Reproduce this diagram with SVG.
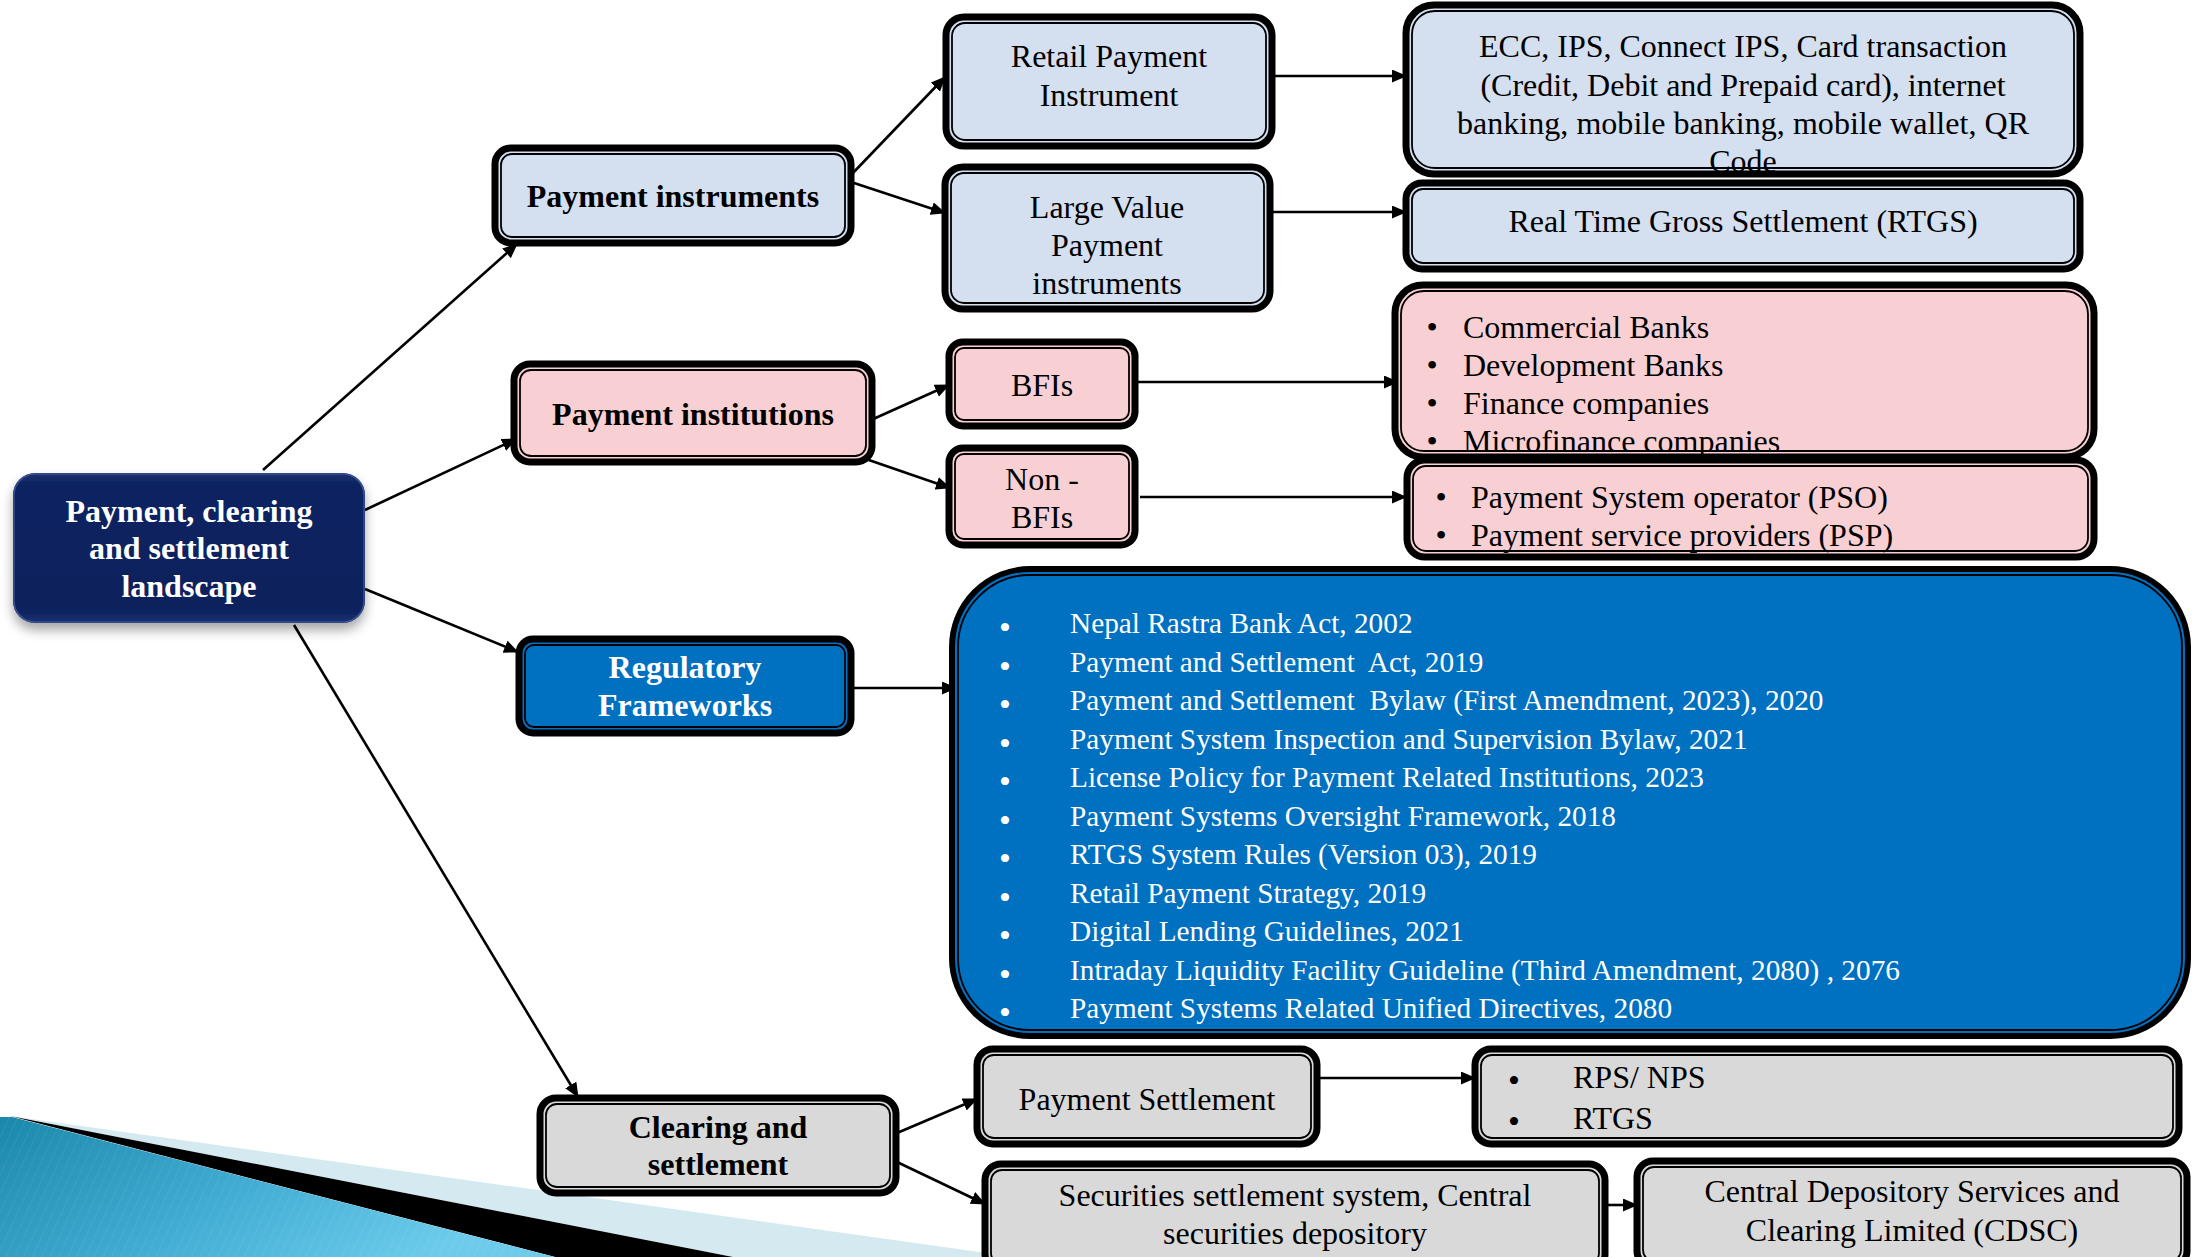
<svg xmlns="http://www.w3.org/2000/svg" width="2192" height="1257" viewBox="0 0 2192 1257">
<defs>
<style>
.t{font-family:'Liberation Serif','Times New Roman',serif;font-size:32px;fill:#000;text-anchor:middle}
.b{font-weight:bold;font-size:32px}
.w{fill:#fff}
.s{text-anchor:start}
.lst{font-size:29.3px;fill:#fff;text-anchor:start}
.blt{text-anchor:middle}
.bb{font-size:34px}
.f{fill:none;stroke:#000;stroke-width:7}
.fi{fill:none;stroke:#000;stroke-width:1.8}
.blue{fill:#d4dff0}
.pink{fill:#f8d0d3}
.gray{fill:#d9d9d9}
.reg{fill:#0070c0}
.c{fill:none;stroke:#000;stroke-width:2.6;marker-end:url(#ah)}
</style>
<marker id="ah" markerUnits="userSpaceOnUse" markerWidth="15" markerHeight="13" refX="14" refY="6.5" orient="auto">
<path d="M0,0 L15,6.5 L0,13 z" fill="#000"/>
</marker>
<linearGradient id="navy" x1="0" y1="0" x2="0" y2="1">
<stop offset="0" stop-color="#1b336f"/>
<stop offset="0.08" stop-color="#0d2461"/>
<stop offset="0.9" stop-color="#0b205c"/>
<stop offset="1" stop-color="#1a3270"/>
</linearGradient>
<linearGradient id="sw" x1="0" y1="0" x2="1" y2="0.4">
<stop offset="0" stop-color="#1a88ab"/>
<stop offset="0.6" stop-color="#46b0d6"/>
<stop offset="1" stop-color="#6ccbea"/>
</linearGradient>
<filter id="sh" x="-10%" y="-10%" width="125%" height="135%">
<feDropShadow dx="0" dy="7" stdDeviation="6" flood-color="#000" flood-opacity="0.35"/>
</filter>
<pattern id="stripes" width="8" height="8" patternUnits="userSpaceOnUse" patternTransform="rotate(25)">
<line x1="0" y1="0" x2="0" y2="8" stroke="#ffffff" stroke-width="1" stroke-opacity="0.12"/>
</pattern>
</defs>
<rect width="2192" height="1257" fill="#fff"/>

<!-- decorative swoosh -->
<g id="swoosh">
<polygon points="10,1116 1015,1257 733,1257" fill="#d5e9f1"/>
<polygon points="10,1116 733,1257 555,1257" fill="#000"/>
<polygon points="0,1117 12,1117 555,1257 0,1257" fill="url(#sw)"/>
<polygon points="0,1117 12,1117 555,1257 0,1257" fill="url(#stripes)"/>
</g>

<g id="connectors">
<line class="c" x1="263" y1="470" x2="517" y2="244"/>
<line class="c" x1="365" y1="510" x2="516" y2="439"/>
<line class="c" x1="365" y1="589" x2="518" y2="652"/>
<line class="c" x1="294" y1="625" x2="578" y2="1097"/>
<line class="c" x1="851" y1="175" x2="945" y2="77"/>
<line class="c" x1="851" y1="182" x2="945" y2="213"/>
<line class="c" x1="1272" y1="76" x2="1406" y2="76"/>
<line class="c" x1="1270" y1="212" x2="1406" y2="212"/>
<line class="c" x1="871" y1="420" x2="949" y2="385"/>
<line class="c" x1="863" y1="458" x2="950" y2="488"/>
<line class="c" x1="1136" y1="382" x2="1398" y2="382"/>
<line class="c" x1="1140" y1="497" x2="1406" y2="497"/>
<line class="c" x1="851" y1="688" x2="956" y2="688"/>
<line class="c" x1="897" y1="1133" x2="977" y2="1099"/>
<line class="c" x1="897" y1="1162" x2="985" y2="1204"/>
<line class="c" x1="1317" y1="1078" x2="1475" y2="1078"/>
<line class="c" x1="1605" y1="1205" x2="1637" y2="1205"/>
</g>

<g id="root">
<rect x="13" y="473" width="352" height="150" rx="22" fill="url(#navy)" filter="url(#sh)"/>
<rect x="14" y="474" width="350" height="148" rx="21" fill="none" stroke="#3a5290" stroke-width="1.5"/>
<text class="t b w" x="189" y="522">Payment, clearing</text>
<text class="t b w" x="189" y="559">and settlement</text>
<text class="t b w" x="189" y="597">landscape</text>
</g>

<g id="payment-instruments">
<rect class="blue" x="495" y="148" width="356" height="95" rx="16"/>
<text class="t b" x="673" y="207">Payment instruments</text>
<rect class="f" x="495" y="148" width="356" height="95" rx="16"/>
<rect class="fi" x="501" y="154" width="344" height="83" rx="11"/>
</g>

<g id="retail">
<rect class="blue" x="946" y="17" width="326" height="129" rx="18"/>
<text class="t" x="1109" y="67">Retail Payment</text>
<text class="t" x="1109" y="106">Instrument</text>
<rect class="f" x="946" y="17" width="326" height="129" rx="18"/>
<rect class="fi" x="952" y="23" width="314" height="117" rx="13"/>
</g>

<g id="large-value">
<rect class="blue" x="945" y="167" width="325" height="142" rx="18"/>
<text class="t" x="1107" y="218">Large Value</text>
<text class="t" x="1107" y="256">Payment</text>
<text class="t" x="1107" y="294">instruments</text>
<rect class="f" x="945" y="167" width="325" height="142" rx="18"/>
<rect class="fi" x="951" y="173" width="313" height="130" rx="13"/>
</g>

<g id="ecc">
<rect class="blue" x="1406" y="5" width="674" height="169" rx="28"/>
<text class="t" x="1743" y="57">ECC, IPS, Connect IPS, Card transaction</text>
<text class="t" x="1743" y="96">(Credit, Debit and Prepaid card), internet</text>
<text class="t" x="1743" y="134" textLength="572" lengthAdjust="spacing">banking, mobile banking, mobile wallet, QR</text>
<text class="t" x="1743" y="172">Code</text>
<rect class="f" x="1406" y="5" width="674" height="169" rx="28"/>
<rect class="fi" x="1412" y="11" width="662" height="157" rx="23"/>
</g>

<g id="rtgs">
<rect class="blue" x="1406" y="183" width="674" height="86" rx="16"/>
<text class="t" x="1743" y="232">Real Time Gross Settlement (RTGS)</text>
<rect class="f" x="1406" y="183" width="674" height="86" rx="16"/>
<rect class="fi" x="1412" y="189" width="662" height="74" rx="11"/>
</g>

<g id="payment-institutions">
<rect class="pink" x="514" y="364" width="358" height="98" rx="16"/>
<text class="t b" x="693" y="425">Payment institutions</text>
<rect class="f" x="514" y="364" width="358" height="98" rx="16"/>
<rect class="fi" x="520" y="370" width="346" height="86" rx="11"/>
</g>

<g id="bfis">
<rect class="pink" x="949" y="342" width="186" height="84" rx="14"/>
<text class="t" x="1042" y="396">BFIs</text>
<rect class="f" x="949" y="342" width="186" height="84" rx="14"/>
<rect class="fi" x="955" y="348" width="174" height="72" rx="9"/>
</g>

<g id="non-bfis">
<rect class="pink" x="949" y="448" width="186" height="97" rx="14"/>
<text class="t" x="1042" y="490">Non -</text>
<text class="t" x="1042" y="528">BFIs</text>
<rect class="f" x="949" y="448" width="186" height="97" rx="14"/>
<rect class="fi" x="955" y="454" width="174" height="85" rx="9"/>
</g>

<g id="banks">
<rect class="pink" x="1395" y="285" width="699" height="172" rx="28"/>
<text class="t blt" x="1432" y="338">•</text>
<text class="t blt" x="1432" y="376">•</text>
<text class="t blt" x="1432" y="414">•</text>
<text class="t blt" x="1432" y="452">•</text>
<text class="t s" x="1463" y="338">Commercial Banks</text>
<text class="t s" x="1463" y="376">Development Banks</text>
<text class="t s" x="1463" y="414">Finance companies</text>
<text class="t s" x="1463" y="452">Microfinance companies</text>
<rect class="f" x="1395" y="285" width="699" height="172" rx="28"/>
<rect class="fi" x="1401" y="291" width="687" height="160" rx="23"/>
</g>

<g id="pso">
<rect class="pink" x="1407" y="460" width="687" height="97" rx="18"/>
<text class="t blt" x="1441" y="508">•</text>
<text class="t blt" x="1441" y="546">•</text>
<text class="t s" x="1471" y="508">Payment System operator (PSO)</text>
<text class="t s" x="1471" y="546">Payment service providers (PSP)</text>
<rect class="f" x="1407" y="460" width="687" height="97" rx="18"/>
<rect class="fi" x="1413" y="466" width="675" height="85" rx="13"/>
</g>

<g id="regulatory">
<rect class="reg" x="519" y="639" width="332" height="94" rx="14"/>
<text class="t b w" x="685" y="678">Regulatory</text>
<text class="t b w" x="685" y="716">Frameworks</text>
<rect class="f" x="519" y="639" width="332" height="94" rx="14"/>
<rect class="fi" x="525" y="645" width="320" height="82" rx="9"/>
</g>

<g id="acts">
<rect class="reg" x="952" y="569" width="1236" height="467" rx="78"/>
<text class="t w blt bb" x="1005" y="639">•</text>
<text class="t w blt bb" x="1005" y="677.5">•</text>
<text class="t w blt bb" x="1005" y="716">•</text>
<text class="t w blt bb" x="1005" y="754.5">•</text>
<text class="t w blt bb" x="1005" y="793">•</text>
<text class="t w blt bb" x="1005" y="831.5">•</text>
<text class="t w blt bb" x="1005" y="870">•</text>
<text class="t w blt bb" x="1005" y="908.5">•</text>
<text class="t w blt bb" x="1005" y="947">•</text>
<text class="t w blt bb" x="1005" y="985.5">•</text>
<text class="t w blt bb" x="1005" y="1024">•</text>
<text class="t lst" x="1070" y="633">Nepal Rastra Bank Act, 2002</text>
<text class="t lst" x="1070" y="671.5" xml:space="preserve">Payment and Settlement  Act, 2019</text>
<text class="t lst" x="1070" y="710" xml:space="preserve">Payment and Settlement  Bylaw (First Amendment, 2023), 2020</text>
<text class="t lst" x="1070" y="748.5">Payment System Inspection and Supervision Bylaw, 2021</text>
<text class="t lst" x="1070" y="787">License Policy for Payment Related Institutions, 2023</text>
<text class="t lst" x="1070" y="825.5">Payment Systems Oversight Framework, 2018</text>
<text class="t lst" x="1070" y="864">RTGS System Rules (Version 03), 2019</text>
<text class="t lst" x="1070" y="902.5">Retail Payment Strategy, 2019</text>
<text class="t lst" x="1070" y="941">Digital Lending Guidelines, 2021</text>
<text class="t lst" x="1070" y="979.5">Intraday Liquidity Facility Guideline (Third Amendment, 2080) , 2076</text>
<text class="t lst" x="1070" y="1018">Payment Systems Related Unified Directives, 2080</text>
<rect class="f" x="952" y="569" width="1236" height="467" rx="78" style="stroke-width:6"/>
<rect class="fi" x="958" y="575" width="1224" height="455" rx="72"/>
</g>

<g id="clearing">
<rect class="gray" x="540" y="1098" width="356" height="95" rx="16"/>
<text class="t b" x="718" y="1138">Clearing and</text>
<text class="t b" x="718" y="1175">settlement</text>
<rect class="f" x="540" y="1098" width="356" height="95" rx="16"/>
<rect class="fi" x="546" y="1104" width="344" height="83" rx="11"/>
</g>

<g id="payment-settlement">
<rect class="gray" x="977" y="1049" width="340" height="95" rx="16"/>
<text class="t" x="1147" y="1110">Payment Settlement</text>
<rect class="f" x="977" y="1049" width="340" height="95" rx="16"/>
<rect class="fi" x="983" y="1055" width="328" height="83" rx="11"/>
</g>

<g id="rps">
<rect class="gray" x="1475" y="1049" width="704" height="95" rx="16"/>
<text class="t blt bb" x="1514" y="1092">•</text>
<text class="t blt bb" x="1514" y="1133">•</text>
<text class="t s" x="1573" y="1088">RPS/ NPS</text>
<text class="t s" x="1573" y="1129">RTGS</text>
<rect class="f" x="1475" y="1049" width="704" height="95" rx="16"/>
<rect class="fi" x="1481" y="1055" width="692" height="83" rx="11"/>
</g>

<g id="securities">
<rect class="gray" x="985" y="1164" width="620" height="106" rx="16"/>
<text class="t" x="1295" y="1206">Securities settlement system, Central</text>
<text class="t" x="1295" y="1244">securities depository</text>
<rect class="f" x="985" y="1164" width="620" height="106" rx="16"/>
<rect class="fi" x="991" y="1170" width="608" height="94" rx="11"/>
</g>

<g id="cdsc">
<rect class="gray" x="1637" y="1161" width="550" height="106" rx="16"/>
<text class="t" x="1912" y="1202">Central Depository Services and</text>
<text class="t" x="1912" y="1241">Clearing Limited (CDSC)</text>
<rect class="f" x="1637" y="1161" width="550" height="106" rx="16"/>
<rect class="fi" x="1643" y="1167" width="538" height="94" rx="11"/>
</g>
</svg>
